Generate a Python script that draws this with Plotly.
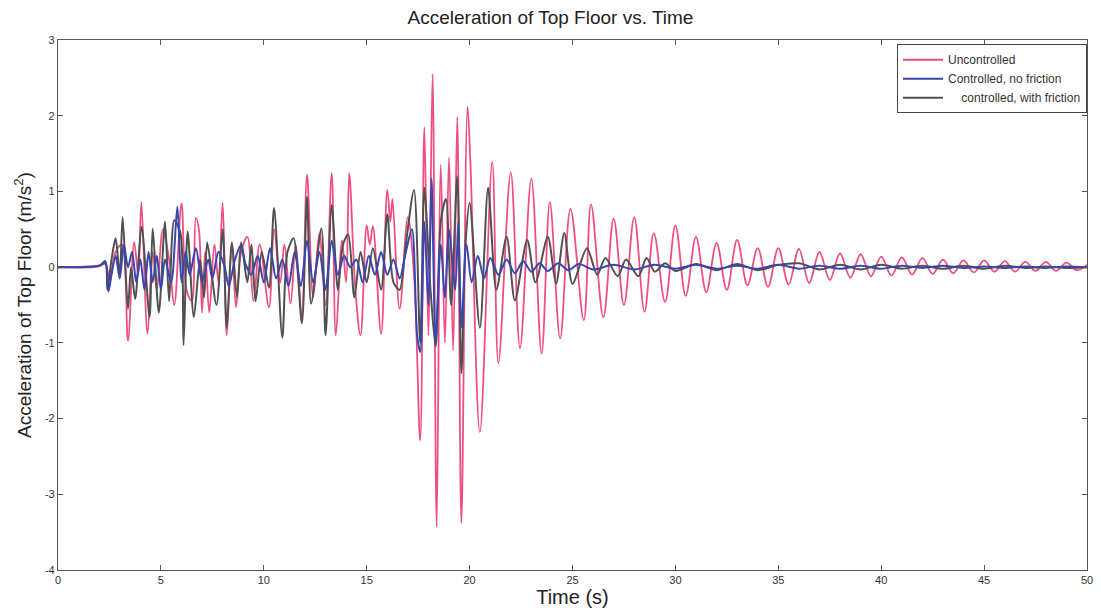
import plotly.graph_objects as go

# ---------------- data ----------------
t_unc = [0, 2.0, 2.3, 2.5, 2.8, 3.1, 3.4, 3.7, 3.9, 4.05, 4.35, 4.6, 4.8, 5.1, 5.4, 5.65, 6.0,
         6.25, 6.5, 6.7, 6.85, 7.0, 7.15, 7.35, 7.6, 7.8, 8.0, 8.2, 8.45, 8.65, 8.9, 9.2, 9.5,
         9.8, 10.25, 10.5, 10.8, 11.0, 11.3, 11.55, 11.85, 12.1, 12.4, 12.7, 13.0, 13.3, 13.5,
         13.8, 14.0, 14.15, 14.45, 14.7, 15.0, 15.15, 15.3, 15.7, 16.0, 16.15, 16.25, 16.6, 17.0,
         17.3, 17.6, 17.8, 18.0, 18.2, 18.4, 18.6, 18.8, 19.0, 19.2, 19.4, 19.6, 19.9, 20.05,
         20.5, 21.1, 21.4, 22.0, 22.45, 23.0, 23.5, 23.9, 24.4, 24.9, 25.55, 25.9, 26.5, 27.0,
         27.5, 28.0, 28.5, 28.95, 29.5, 30.0, 30.5, 31.0, 31.5, 32.0, 32.5, 33.0, 33.5, 34.0,
         34.5, 35.0, 35.5, 36.0, 36.5, 37.0, 37.5, 38.0, 38.5, 39.0, 39.5, 40.0, 40.5, 41.0,
         41.5, 42.0, 42.5, 43.0, 43.5, 44.0, 44.5, 45.0, 45.5, 46.0, 46.5, 47.0, 47.5, 48.0,
         48.5, 49.0, 49.5, 50.0]
a_unc = [0, 0.01, 0.05, -0.15, 0.2, 0.3, -0.97, 0.33, -0.1, 0.86, -0.88, 0.2, -0.3, 0.5, 0.1, -0.5, 0.84,
         -0.3, -0.45, 0.65, 0.49, -0.6, 0.2, -0.6, 0.3, -0.2, 0.85, -0.9, 0.3, -0.53, 0.2, 0.4, -0.45,
         0.3, -0.53, 0.5, -0.2, 0.3, -0.48, 0.3, -0.66, 1.22, -0.4, 0.45, -0.5, 1.24, -0.9,
         0.35, -0.2, 1.24, -0.3, -0.9, 0.55, 0.3, 0.54, -0.88, 1.02, 0.6, 0.9, -0.55, 0.66,
         -0.1, -2.29, 1.85, -0.9, 2.55, -3.43, 1.35, -1.0, 1.45, -1.1, 1.98, -3.38, 2.12, 1.3,
         -2.18, 1.39, -1.27, 1.25, -1.07, 1.17, -1.14, 0.86, -0.94, 0.77, -0.7, 0.83, -0.66, 0.64,
         -0.5, 0.66, -0.59, 0.45, -0.46, 0.55, -0.38, 0.4, -0.33, 0.32, -0.3, 0.36, -0.24, 0.25,
         -0.26, 0.25, -0.23, 0.24, -0.21, 0.2, -0.17, 0.18, -0.14, 0.17, -0.12, 0.14, -0.11, 0.13,
         -0.1, 0.12, -0.09, 0.1, -0.08, 0.09, -0.07, 0.09, -0.06, 0.08, -0.06, 0.07, -0.05, 0.07,
         -0.05, 0.06, -0.04, 0.03]

t_nof = [0, 2.0, 2.3, 2.45, 2.6, 2.8, 3.0, 3.2, 3.4, 3.6, 3.8, 4.0, 4.2, 4.4, 4.6, 4.8, 5.0, 5.2,
         5.5, 5.8, 6.0, 6.2, 6.4, 6.7, 7.0, 7.3, 7.5, 7.8, 8.1, 8.3, 8.6, 8.9, 9.1, 9.4, 9.7, 10.0,
         10.3, 10.6, 10.9, 11.2, 11.5, 11.8, 12.1, 12.4, 12.7, 13.0, 13.3, 13.6, 13.9, 14.2, 14.5,
         14.8, 15.1, 15.4, 15.7, 16.0, 16.3, 16.6, 16.9, 17.2, 17.45, 17.6, 17.8, 18.0, 18.15,
         18.35, 18.6, 18.8, 19.0, 19.3, 19.45, 19.6, 19.85, 20.1, 20.4, 20.7, 21.0, 21.4, 21.8,
         22.2, 22.6, 23.0, 23.4, 23.8, 24.3, 24.8, 25.3, 26.0, 27.0, 28.0, 29.0, 30.0, 31.0,
         32.0, 33.0, 34.0, 35.0, 36.0, 37.0, 38.0, 39.0, 40.0, 41.0, 42.0, 43.0, 44.0, 45.0,
         46.0, 47.0, 48.0, 49.0, 50.0]
a_nof = [0, 0.02, 0.08, -0.32, -0.1, 0.15, -0.15, 0.3, 0.0, 0.2, -0.2, 0.1, -0.3, 0.2, -0.2, 0.15, -0.3, 0.1,
         -0.2, 0.8, -0.2, 0.2, -0.1, 0.25, -0.2, 0.1, -0.15, 0.2, 0.0, -0.25, 0.1, 0.3, 0.05, -0.1, 0.15, -0.2,
         0.25, -0.15, 0.1, -0.25, 0.2, -0.25, 0.35, -0.2, 0.2, -0.3, 0.35, -0.1, 0.15, 0.0, 0.1,
         -0.2, 0.15, -0.1, 0.2, -0.1, 0.1, -0.15, 0.2, 0.5, -0.9, -1.12, 0.6, -0.5, 1.17,
         -1.0, 0.3, -0.4, 0.5, -0.3, 0.6, -0.8, 0.3, -0.2, 0.15, -0.15, 0.12, -0.1, 0.1,
         -0.08, 0.08, -0.06, 0.05, -0.05, 0.05, -0.04, 0.04, -0.03, 0.03, -0.03, 0.03, -0.02, 0.03,
         -0.02, 0.02, -0.02, 0.03, -0.02, 0.02, -0.02, 0.02, -0.02, 0.02, -0.01, 0.02, -0.01, 0.01,
         -0.01, 0.01, -0.01, 0.01, 0.0]

t_fric = [0, 2.0, 2.3, 2.4, 2.6, 2.8, 3.0, 3.14, 3.4, 3.55, 3.75, 4.06, 4.45, 4.6, 4.9, 5.2, 5.4,
          5.65, 5.95, 6.1, 6.3, 6.6, 6.9, 7.1, 7.25, 7.7, 8.0, 8.2, 8.45, 8.7, 8.9, 9.2, 9.4, 9.6,
          9.9, 10.25, 10.5, 10.9, 11.15, 11.45, 11.85, 12.1, 12.3, 12.8, 13.0, 13.3, 13.6, 13.85,
          14.1, 14.4, 14.7, 15.0, 15.3, 15.7, 16.0, 16.3, 16.6, 16.9, 17.3, 17.6, 17.8, 18.1,
          18.35, 18.6, 18.85, 19.1, 19.4, 19.6, 19.8, 20.0, 20.5, 20.9, 21.3, 21.8, 22.2, 22.8,
          23.2, 23.8, 24.2, 24.6, 25.0, 25.7, 26.2, 26.6, 27.2, 27.6, 28.2, 28.6, 29.0, 29.5,
          30.0, 31.0, 32.0, 33.0, 34.0, 35.0, 36.0, 37.0, 38.0, 39.0, 40.0, 41.0, 42.0, 43.0,
          44.0, 45.0, 46.0, 47.0, 48.0, 49.0, 50.0]
a_fric = [0, 0.02, 0.05, -0.3, 0.1, 0.38, -0.1, 0.66, -0.55, 0.0, -0.42, 0.53, -0.66, 0.51, -0.6, 0.6, -0.45,
          0.62, 0.45, -1.03, 0.47, -0.66, 0.1, -0.4, 0.33, -0.5, 0.5, -0.8, 0.33, -0.4, 0.33, -0.2, 0.3, -0.45,
          0.2, -0.27, 0.78, -0.93, 0.2, 0.38, -0.74, 0.93, -0.48, 0.51, -0.9, 0.82, -0.3, 0.3,
          0.43, -0.4, 0.2, -0.2, 0.25, -0.3, 0.7, -0.2, -0.3, 0.3, 1.02, -1.0, 1.05, -0.3,
          -1.05, 0.6, 0.9, -0.5, 1.2, -1.4, 0.3, 0.85, -0.8, 1.05, -0.3, 0.4, -0.44, 0.36,
          -0.2, 0.4, -0.22, 0.45, -0.22, 0.25, -0.1, 0.12, -0.12, 0.1, -0.12, 0.12, -0.06, 0.05,
          -0.05, 0.04, -0.04, 0.04, -0.04, 0.03, 0.05, -0.03, 0.03, -0.03, 0.03, -0.02, 0.02, -0.02,
          0.02, -0.02, 0.02, -0.01, 0.01, -0.01, 0.0]

x_ticks = [0, 5, 10, 15, 20, 25, 30, 35, 40, 45, 50]
y_ticks = [-4, -3, -2, -1, 0, 1, 2, 3]

PINK = "#ee4f80"
BLUE = "#3a45b0"
GRAY = "#505050"
FONT = "Arial, Liberation Sans, sans-serif"

fig = go.Figure()
fig.add_trace(go.Scatter(x=t_unc, y=a_unc, mode="lines", name="Uncontrolled",
                         line=dict(color=PINK, width=1.8, shape="spline", smoothing=1.0),
                         legendrank=1))
fig.add_trace(go.Scatter(x=t_fric, y=a_fric, mode="lines",
                         name="\u00a0\u00a0\u00a0\u00a0controlled, with friction",
                         line=dict(color=GRAY, width=2.0, shape="spline", smoothing=0.8),
                         legendrank=3))
fig.add_trace(go.Scatter(x=t_nof, y=a_nof, mode="lines", name="Controlled, no friction",
                         line=dict(color=BLUE, width=2.0, shape="spline", smoothing=0.8),
                         legendrank=2))

axis_common = dict(showgrid=False, zeroline=False, showline=True, linecolor="#555555",
                   linewidth=1.2, mirror="ticks", ticks="inside", ticklen=5,
                   tickcolor="#555555", tickfont=dict(family=FONT, size=11, color="#333333"))

fig.update_layout(
    width=1101, height=614,
    margin=dict(l=58, r=8, t=40, b=44),
    paper_bgcolor="white", plot_bgcolor="white",
    title=dict(text="Acceleration of Top Floor vs. Time", x=0.5, xanchor="center",
               y=0.972, yanchor="middle",
               font=dict(family=FONT, size=19, color="#222222")),
    xaxis=dict(range=[0, 50], tickvals=x_ticks, ticktext=[str(v) for v in x_ticks],
               title=dict(text="Time (s)", font=dict(family=FONT, size=20, color="#222222"),
                          standoff=4),
               **axis_common),
    yaxis=dict(range=[-4, 3], tickvals=y_ticks, ticktext=[str(v) for v in y_ticks],
               title=dict(text="Acceleration of Top Floor (m/s<sup>2</sup>)",
                          font=dict(family=FONT, size=19, color="#222222"), standoff=8),
               **axis_common),
    legend=dict(x=1.0, y=0.992, xanchor="right", yanchor="top",
                bgcolor="white", bordercolor="#444444", borderwidth=1,
                font=dict(family=FONT, size=12, color="#333333"),
                tracegroupgap=0, itemwidth=40),
    showlegend=True,
)

fig.write_html("out.html")
